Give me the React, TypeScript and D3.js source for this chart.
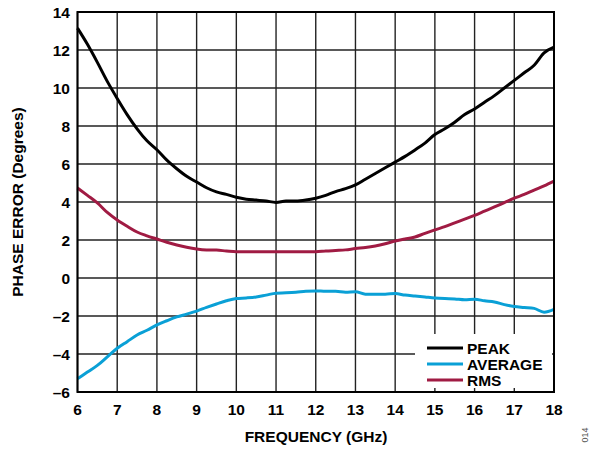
import React from "react";
import * as d3 from "d3";

const freq = [6, 6.25, 6.5, 6.75, 7, 7.25, 7.5, 7.75, 8, 8.25, 8.5, 8.75, 9, 9.25, 9.5, 9.75, 10, 10.25, 10.5, 10.75, 11, 11.25, 11.5, 11.75, 12, 12.25, 12.5, 12.75, 13, 13.25, 13.5, 13.75, 14, 14.25, 14.5, 14.75, 15, 15.25, 15.5, 15.75, 16, 16.25, 16.5, 16.75, 17, 17.25, 17.5, 17.75, 18];
const peak = [13.15, 12.3, 11.35, 10.35, 9.45, 8.6, 7.85, 7.22, 6.75, 6.2, 5.75, 5.35, 5.05, 4.75, 4.53, 4.4, 4.25, 4.15, 4.1, 4.05, 3.98, 4.05, 4.05, 4.1, 4.2, 4.35, 4.55, 4.7, 4.9, 5.2, 5.5, 5.8, 6.1, 6.4, 6.74, 7.1, 7.55, 7.85, 8.2, 8.6, 8.9, 9.25, 9.6, 10.0, 10.4, 10.8, 11.2, 11.85, 12.15];
const average = [-5.3, -4.95, -4.6, -4.15, -3.7, -3.35, -3.0, -2.75, -2.47, -2.25, -2.05, -1.9, -1.74, -1.55, -1.37, -1.2, -1.08, -1.05, -1.0, -0.9, -0.8, -0.78, -0.75, -0.7, -0.68, -0.7, -0.7, -0.75, -0.72, -0.85, -0.85, -0.85, -0.82, -0.9, -0.95, -1.0, -1.05, -1.08, -1.1, -1.15, -1.12, -1.2, -1.26, -1.4, -1.5, -1.55, -1.6, -1.8, -1.65];
const rms = [4.74, 4.35, 3.95, 3.45, 3.05, 2.72, 2.42, 2.22, 2.05, 1.88, 1.74, 1.62, 1.53, 1.48, 1.47, 1.42, 1.38, 1.38, 1.38, 1.38, 1.38, 1.38, 1.38, 1.38, 1.38, 1.42, 1.45, 1.48, 1.55, 1.6, 1.68, 1.8, 1.95, 2.05, 2.16, 2.35, 2.53, 2.7, 2.9, 3.1, 3.3, 3.52, 3.74, 3.97, 4.2, 4.4, 4.63, 4.85, 5.1];

const xTicks = [6, 7, 8, 9, 10, 11, 12, 13, 14, 15, 16, 17, 18];
const yTicks = [14, 12, 10, 8, 6, 4, 2, 0, -2, -4, -6];

const seriesNames = ["PEAK", "AVERAGE", "RMS"];
const seriesData = [peak, average, rms];
const seriesColors = ["#000000", "#0aa0d6", "#a01b43"];

const W = 590, H = 449;
const L = 77.5, R = 554, T = 12, B = 392;

export default function App() {
  const x = d3.scaleLinear().domain([6, 18]).range([L, R]);
  const y = d3.scaleLinear().domain([-6, 14]).range([B, T]);
  const line = d3.line<number>().x((_, i) => x(freq[i])).y((d) => y(d)).curve(d3.curveMonotoneX);
  const font = "'Liberation Sans', Arial, Helvetica, sans-serif";
  const fs = 15.5;
  const fmt = (v: number) => (v < 0 ? "\u2013" + Math.abs(v) : String(v));
  return (
    <svg width={W} height={H} style={{ position: "absolute", left: 0, top: 0, background: "#fff" }}>
      <rect x={0} y={0} width={W} height={H} fill="#fff" />
      {xTicks.map((t) => (
        <line key={"gx" + t} x1={x(t)} x2={x(t)} y1={T} y2={B} stroke="#222" strokeWidth={1.4} />
      ))}
      {yTicks.map((t) => (
        <line key={"gy" + t} x1={L} x2={R} y1={y(t)} y2={y(t)} stroke="#222" strokeWidth={1.4} />
      ))}
      {seriesData.map((d, i) => (
        <path key={"s" + i} d={line(d) || ""} fill="none" stroke={seriesColors[i]} strokeWidth={3} strokeLinejoin="round" />
      ))}
      <rect x={415} y={334} width={137} height={54} fill="#fff" />
      <rect x={L} y={T} width={R - L} height={B - T} fill="none" stroke="#000" strokeWidth={2} />
      {seriesNames.map((n, i) => (
        <g key={"lg" + n}>
          <line x1={427} x2={463} y1={348 + i * 16} y2={348 + i * 16} stroke={seriesColors[i]} strokeWidth={3} />
          <text x={467} y={353.5 + i * 16} fontFamily={font} fontWeight="bold" fontSize={fs} fill="#000">{n}</text>
        </g>
      ))}
      {yTicks.map((t) => (
        <text key={"ty" + t} x={70} y={y(t) + 5.5} textAnchor="end" fontFamily={font} fontWeight="bold" fontSize={fs} fill="#000">{fmt(t)}</text>
      ))}
      {xTicks.map((t) => (
        <text key={"tx" + t} x={x(t)} y={415} textAnchor="middle" fontFamily={font} fontWeight="bold" fontSize={fs} fill="#000">{t}</text>
      ))}
      <text x={316} y={442} textAnchor="middle" fontFamily={font} fontWeight="bold" fontSize={fs} fill="#000">FREQUENCY (GHz)</text>
      <text transform={`translate(23,${(T + B) / 2}) rotate(-90)`} textAnchor="middle" fontFamily={font} fontWeight="bold" fontSize={fs} fill="#000">PHASE ERROR (Degrees)</text>
      <text transform="translate(588,435) rotate(-90)" textAnchor="middle" fontFamily={font} fontSize={9} fill="#555">014</text>
    </svg>
  );
}
